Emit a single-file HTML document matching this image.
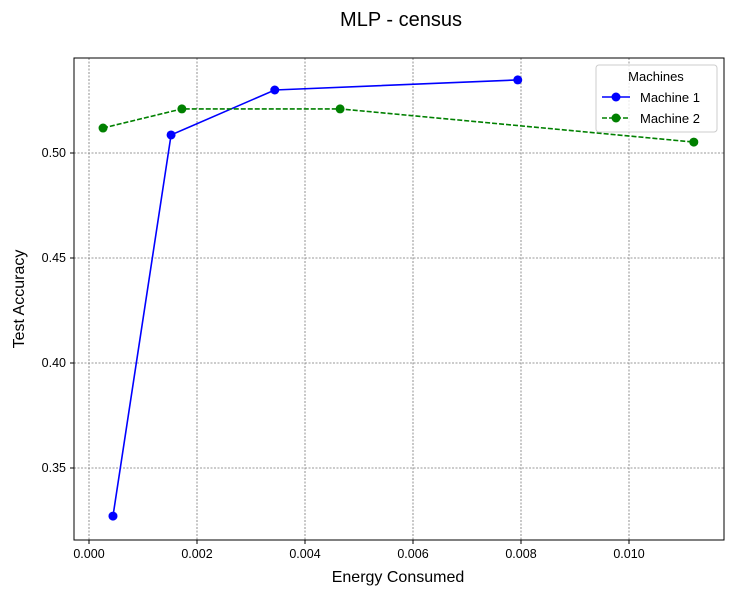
<!DOCTYPE html>
<html><head><meta charset="utf-8"><style>
body{margin:0;background:#fff;font-family:"Liberation Sans","DejaVu Sans",sans-serif;}
svg text{font-family:"Liberation Sans","DejaVu Sans",sans-serif;}
</style></head><body>
<svg id="chart" width="733" height="595" xmlns="http://www.w3.org/2000/svg">
<text x="401" y="26" font-size="20" text-anchor="middle">MLP - census</text>
<g id="grid"></g>
<g id="axes"></g>
<g id="series"></g>
<rect x="74" y="58" width="650" height="482" fill="none" stroke="#000" stroke-width="1"/>
<text x="398" y="582" font-size="16" text-anchor="middle">Energy Consumed</text>
<text x="24" y="299" font-size="16" text-anchor="middle" transform="rotate(-90 24 299)">Test Accuracy</text>
<g>
<rect x="596" y="65" width="121" height="67" rx="3" fill="#fff" fill-opacity="0.8" stroke="#ccc"/>
<text x="656" y="81" font-size="13" text-anchor="middle">Machines</text>
<g>
<line x1="602" y1="97" x2="630" y2="97" stroke="#0000ff" stroke-width="1.5"/><circle cx="616" cy="97" r="4.5" fill="#0000ff"/>
<text x="640" y="102" font-size="13">Machine 1</text></g>
<g>
<line x1="602" y1="118" x2="630" y2="118" stroke="#008000" stroke-width="1.5" stroke-dasharray="5,2"/><circle cx="616" cy="118" r="4.5" fill="#008000"/>
<text x="640" y="123" font-size="13">Machine 2</text></g>
</g>
</svg>
<script>
const xTicks = [0.000, 0.002, 0.004, 0.006, 0.008, 0.010];
const xTickLabels = ["0.000","0.002","0.004","0.006","0.008","0.010"];
const yTicks = [0.35, 0.40, 0.45, 0.50];
const yTickLabels = ["0.35","0.40","0.45","0.50"];
const m1Energy = [0.000444, 0.00152, 0.00344, 0.00794];
const m1Acc = [0.3271, 0.5086, 0.530, 0.5348];
const m2Energy = [0.00026, 0.00172, 0.00465, 0.0112];
const m2Acc = [0.5119, 0.521, 0.521, 0.5052];

const NS = "http://www.w3.org/2000/svg";
function sx(v){ return 89 + v * 54000; }
function sy(v){ return 153 + (0.50 - v) * 2100; }
function mk(tag, attrs, parent){
  const e = document.createElementNS(NS, tag);
  for (const k in attrs) e.setAttribute(k, attrs[k]);
  parent.appendChild(e); return e;
}
const grid = document.getElementById('grid');
const axes = document.getElementById('axes');
const series = document.getElementById('series');
xTicks.forEach((t, i) => {
  const x = sx(t);
  const g = mk('line', {x1:x, x2:x, y1:58, y2:540, stroke:'#777', 'stroke-width':0.8, 'stroke-dasharray':'2,1.5'}, grid);
  
  
  const tk = mk('line', {x1:x, x2:x, y1:540, y2:544, stroke:'#000'}, axes);
  
  
  const tx = mk('text', {x:x, y:558, 'font-size':12.5, 'font-family':'DejaVu Sans, sans-serif', 'text-anchor':'middle'}, axes);
  tx.textContent = xTickLabels[i];
  
  
});
yTicks.forEach((t, i) => {
  const y = sy(t);
  const g = mk('line', {x1:74, x2:724, y1:y, y2:y, stroke:'#777', 'stroke-width':0.8, 'stroke-dasharray':'2,1.5'}, grid);
  
  
  const tk = mk('line', {x1:70, x2:74, y1:y, y2:y, stroke:'#000'}, axes);
  
  
  const tx = mk('text', {x:66, y:y+4, 'font-size':12.5, 'font-family':'DejaVu Sans, sans-serif', 'text-anchor':'end'}, axes);
  tx.textContent = yTickLabels[i];
  
  
});
function drawSeries(xs, ys, color, dash, name){
  const pts = xs.map((v, i) => sx(v) + ',' + sy(ys[i])).join(' ');
  const attrs = {points:pts, fill:'none', stroke:color, 'stroke-width':1.6};
  if (dash) attrs['stroke-dasharray'] = dash;
  const pl = mk('polyline', attrs, series);
  
  
  xs.forEach((v, i) => {
    const c = mk('circle', {cx:sx(v), cy:sy(ys[i]), r:4.5, fill:color}, series);
    
    
  });
}
drawSeries(m1Energy, m1Acc, '#0000ff', null, 'machine-1');
drawSeries(m2Energy, m2Acc, '#008000', '5,2', 'machine-2');
</script>
</body></html>
